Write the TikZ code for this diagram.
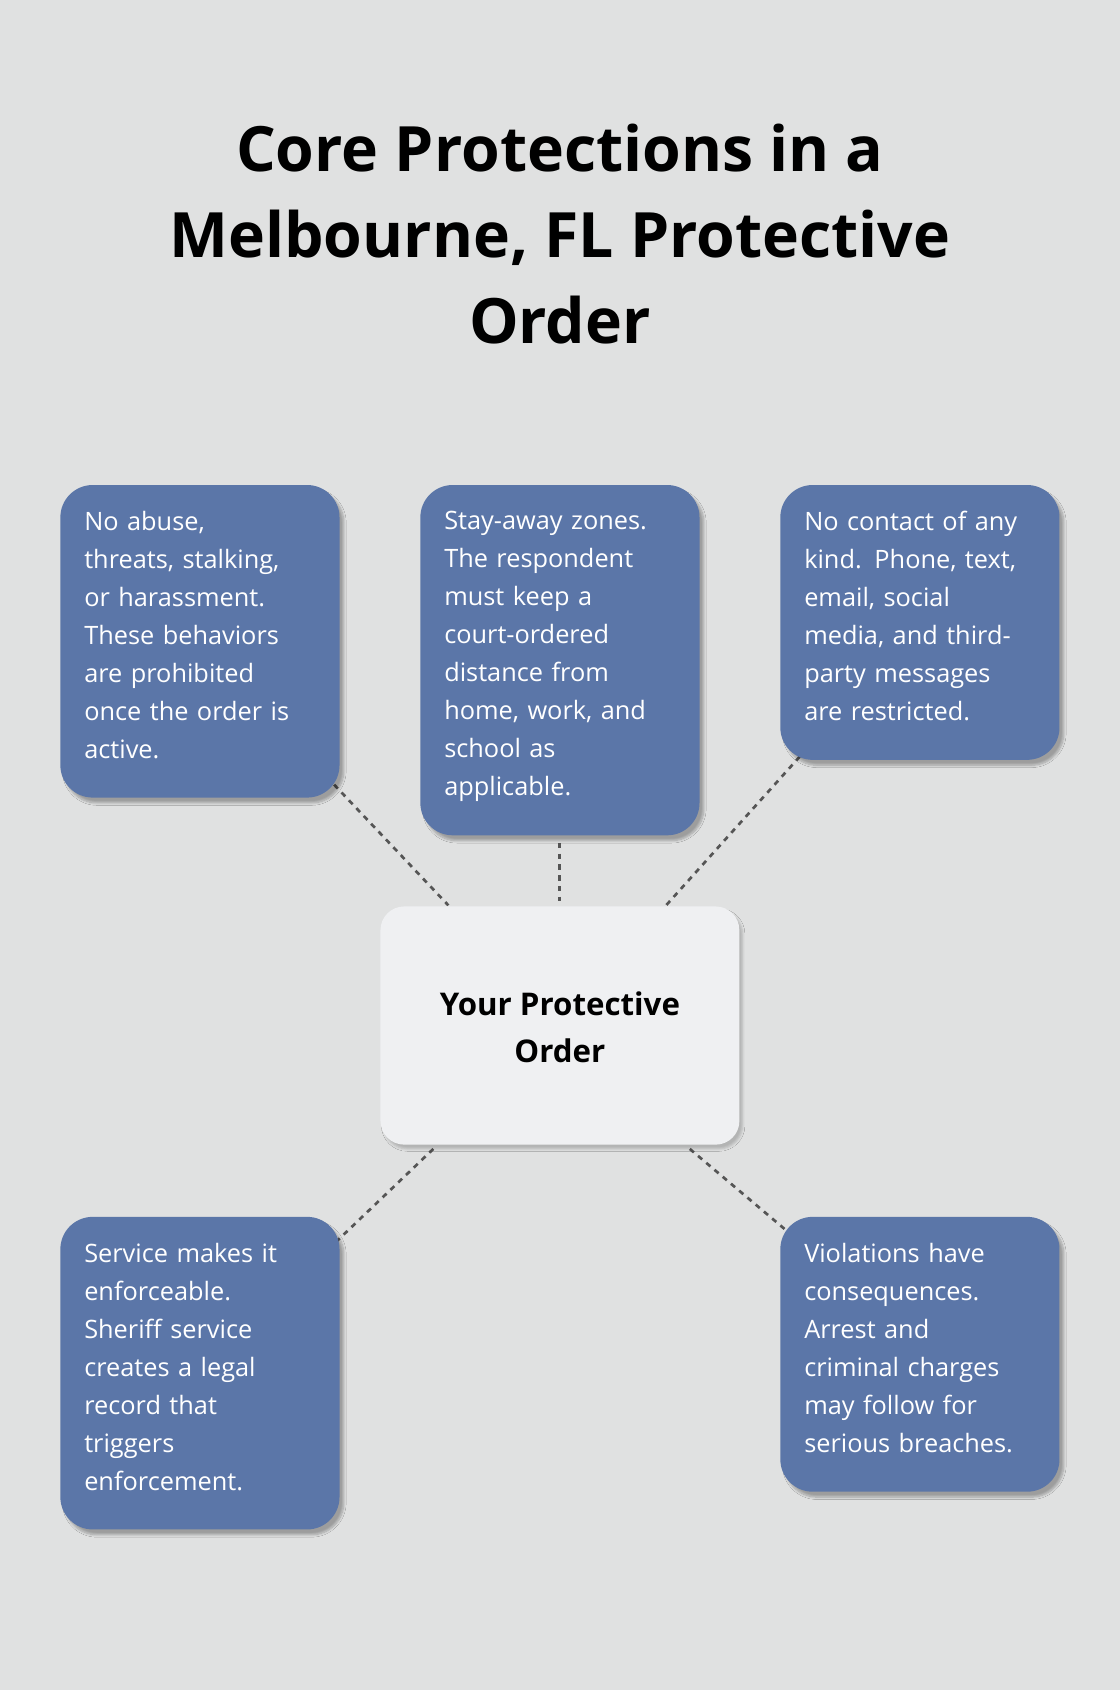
\documentclass[tikz,border=0pt]{standalone}
\usepackage{fontspec}
\setmainfont{Open Sans}
\usetikzlibrary{shadows.blur}
\definecolor{bg}{HTML}{E0E1E1}
\definecolor{boxc}{HTML}{5B76A8}
\definecolor{cen}{HTML}{EFF0F2}
\definecolor{ln}{HTML}{555555}
\tikzset{
 card/.style={fill=boxc,rounded corners=30pt,blur shadow={shadow xshift=4pt,shadow yshift=-5pt,shadow blur steps=8,shadow opacity=30}},
 txt/.style={anchor=north west,text=white,text width=230pt,align=left,inner sep=0pt,font=\fontsize{23.5}{35.3}\selectfont},
 conn/.style={draw=ln,line width=2.5pt,dash pattern=on 5pt off 5pt}
}
\begin{document}
\begin{tikzpicture}[x=1pt,y=-1pt]
\useasboundingbox[fill=bg] (0,0) rectangle (1039,1568);
\node[font=\bfseries\fontsize{58}{80}\selectfont,align=center] (title) at (519.5,217) {Core Protections in a\\Melbourne, FL Protective\\Order};
% connectors
\coordinate (a1) at (310,728); \coordinate (a2) at (416,840);
\coordinate (b1) at (519,782); \coordinate (b2) at (519,836);
\coordinate (c1) at (742,702); \coordinate (c2) at (618,840);
\coordinate (d1) at (402,1066); \coordinate (d2) at (312,1152);
\coordinate (e1) at (640,1066); \coordinate (e2) at (730,1142);
\draw[conn] (a1)--(a2); \draw[conn] (b1)--(b2); \draw[conn] (c1)--(c2);
\draw[conn] (d1)--(d2); \draw[conn] (e1)--(e2);
% boxes
\path[card] (56,450) rectangle (315,740);
\path[card] (390,450) rectangle (649,775);
\path[card] (724,450) rectangle (983,705);
\path[card] (56,1129) rectangle (315,1419);
\path[card] (724,1129) rectangle (983,1384);
\path[fill=cen,rounded corners=22pt,blur shadow={shadow xshift=3pt,shadow yshift=-4pt,shadow opacity=20}] (353,841) rectangle (686,1062);
\node[font=\bfseries\fontsize{29}{44}\selectfont,align=center] (center) at (519.5,953) {Your Protective\\Order};
\node[txt] (t1) at (78,474) {No abuse,\\threats, stalking,\\or harassment.\\These behaviors\\are prohibited\\once the order is\\active.};
\node[txt] (t2) at (412,474) {Stay-away zones.\\The respondent\\must keep a\\court-ordered\\distance from\\home, work, and\\school as\\applicable.};
\node[txt] (t3) at (746,474) {No contact of any\\kind. Phone, text,\\email, social\\media, and third-\\party messages\\are restricted.};
\node[txt] (t4) at (78,1153) {Service makes it\\enforceable.\\Sheriff service\\creates a legal\\record that\\triggers\\enforcement.};
\node[txt] (t5) at (746,1153) {Violations have\\consequences.\\Arrest and\\criminal charges\\may follow for\\serious breaches.};
\end{tikzpicture}
\end{document}
